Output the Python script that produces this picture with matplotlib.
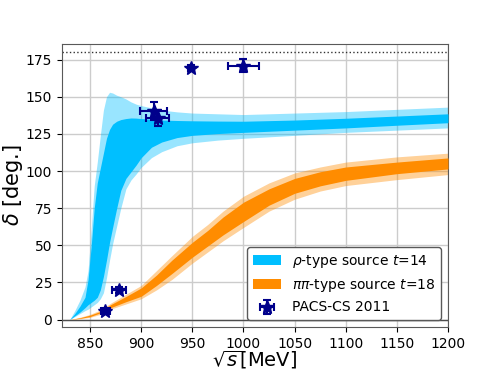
import matplotlib
matplotlib.use("Agg")
import matplotlib.pyplot as plt
import numpy as np

# rho-type source, t=14 : outer (light) and inner (dark) bands
rho_energy = [830, 835, 840, 845, 848, 851, 854, 857, 860, 863, 866, 869, 872, 876, 880,
              885, 890, 895, 900, 910, 920, 935, 950, 975, 1000, 1050, 1100, 1150, 1200]
rho_outer_hi = [0, 6, 13, 22, 33, 60, 90, 106, 124, 141, 150, 153, 152.5, 151, 150,
                148.5, 146.5, 145, 144, 142.5, 141, 139.8, 139, 138.5, 138, 139, 140, 141.5, 143]
rho_inner_hi = [0, 4, 9, 15, 27, 49, 75, 92, 102, 112, 122, 128, 131.5, 133.5, 134.6,
                135.3, 135.7, 135.6, 135.3, 134.8, 134.3, 134, 133.8, 133.6, 133.5, 134.3, 135.5, 137, 138.5]
rho_inner_lo = [0, 2.5, 5, 8, 10, 11.5, 13, 15, 20, 29, 40, 52, 62, 75, 87,
                95, 99.5, 104, 109, 116, 119.5, 122.5, 124, 125.2, 126, 127.5, 129, 130.8, 132.5]
rho_outer_lo = [0, 2, 4, 6, 7, 8.5, 10, 11.5, 14, 18, 28, 40, 51, 63, 75,
                88, 94, 98, 102.5, 109, 113, 117, 119, 120.8, 122, 124, 126, 127.5, 129]

# pipi-type source, t=18
pipi_energy = [830, 840, 850, 860, 870, 885, 900, 915, 930, 950, 965, 980, 1000,
               1025, 1050, 1075, 1100, 1150, 1200]
pipi_outer_hi = [0, 1.5, 3.5, 6.5, 11, 17, 23, 33, 43, 56, 64, 73, 83,
                 92, 98.7, 102.7, 106, 109.5, 112]
pipi_inner_hi = [0, 1.2, 3, 5.5, 10, 15.5, 21.3, 30, 40, 52, 60, 69, 79,
                 88, 95, 99.5, 102.7, 106, 108.8]
pipi_inner_lo = [0, 0.8, 2, 4.5, 8, 12, 15.7, 23, 31, 42, 49.5, 57, 66,
                 77, 85, 90, 93.7, 98.2, 101.4]
pipi_outer_lo = [0, 0.5, 1.5, 3.5, 7, 10.5, 14, 20, 27, 38, 45.5, 53, 62,
                 73, 81, 86.5, 90.2, 94.2, 97.6]

# PACS-CS 2011 points
pacs_e = [865, 878, 912, 916, 948.5, 1000]
pacs_e_err = [4, 7, 13, 11.5, 3, 15]
pacs_delta = [5.6, 20, 140.5, 135.5, 169.5, 171]
pacs_delta_err = [2, 2, 6, 5.5, 2, 4.5]

rho_label = r"$\rho$-type source $t$=14"
pipi_label = r"$\pi\pi$-type source $t$=18"
pacs_label = "PACS-CS 2011"

fig = plt.figure(figsize=(4.98, 3.74), dpi=100)
ax = fig.add_axes([0.1245, 0.1257, 0.7751, 0.7567])

ax.grid(True, color="0.8", linewidth=1.0, zorder=0)
ax.set_axisbelow(True)

ax.fill_between(rho_energy, rho_outer_lo, rho_outer_hi, color="deepskyblue",
                alpha=0.4, linewidth=0, zorder=2)
ax.fill_between(rho_energy, rho_inner_lo, rho_inner_hi, color="deepskyblue",
                linewidth=0, zorder=3, label=rho_label)
ax.fill_between(pipi_energy, pipi_outer_lo, pipi_outer_hi, color="darkorange",
                alpha=0.4, linewidth=0, zorder=2)
ax.fill_between(pipi_energy, pipi_inner_lo, pipi_inner_hi, color="darkorange",
                linewidth=0, zorder=3, label=pipi_label)

ax.axhline(180, color="0.2", linestyle=":", linewidth=1.0, zorder=1)
ax.axhline(0, color="0.3", linestyle="-", linewidth=1.0, zorder=1)

ax.errorbar(pacs_e, pacs_delta, xerr=pacs_e_err, yerr=pacs_delta_err, fmt="*",
            color="darkblue", ms=10, mfc="darkblue", mec="darkblue",
            elinewidth=1.5, capsize=3, capthick=1.5, zorder=5, label=pacs_label)

ax.set_xlim(822.5, 1200)
ax.set_ylim(-5, 185.5)
ax.set_xticks(np.arange(850, 1201, 50))
ax.set_yticks(np.arange(0, 176, 25))
ax.tick_params(labelsize=10)
for sp in ax.spines.values():
    sp.set_color("0.35")

ax.set_xlabel(r"$\sqrt{s}$[MeV]", fontsize=14, labelpad=-1)
ax.set_ylabel(r"$\delta$ [deg.]", fontsize=15)
ax.yaxis.set_label_coords(-0.097, 0.5)

leg = ax.legend(loc="lower right", fontsize=10, framealpha=1.0,
                edgecolor="0.35", borderaxespad=0.5, handlelength=2.0)

fig.savefig("out.png", dpi=100)
